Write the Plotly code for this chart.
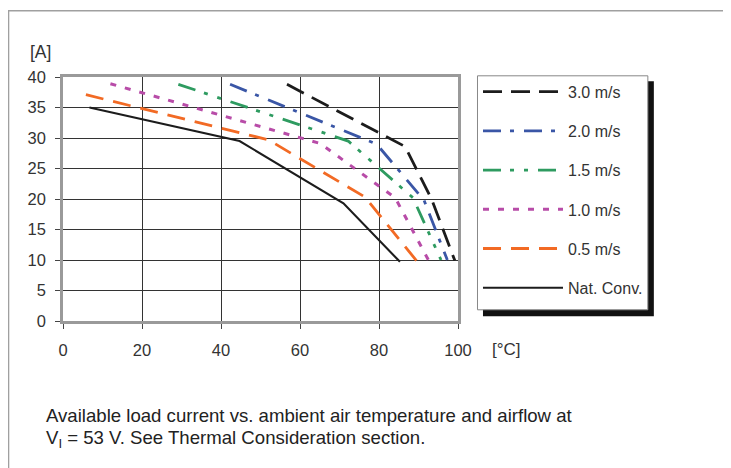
import plotly.graph_objects as go

# ---- data ----
series_names = ["3.0 m/s", "2.0 m/s", "1.5 m/s", "1.0 m/s", "0.5 m/s", "Nat. Conv."]
temp_30 = [56.7, 86.6, 93.3, 99.2]
curr_30 = [38.8, 28.6, 20.0, 9.9]
temp_20 = [42.3, 79.4, 91.4, 97.3]
curr_20 = [38.8, 29.0, 19.8, 10.0]
temp_15 = [29.2, 72.2, 88.6, 95.7]
curr_15 = [38.8, 29.5, 20.2, 10.0]
temp_10 = [12.0, 65.1, 84.1, 92.5]
curr_10 = [38.9, 29.1, 20.2, 10.0]
temp_05 = [5.8, 52.0, 76.5, 89.6]
curr_05 = [37.1, 29.7, 20.3, 9.8]
temp_nat = [6.7, 44.7, 71.0, 85.3]
curr_nat = [35.0, 29.5, 19.3, 9.7]

x_ticks = [0, 20, 40, 60, 80, 100]
y_ticks = [0, 5, 10, 15, 20, 25, 30, 35, 40]

# ---- layout geometry (page pixels; the page body adds an 8px offset) ----
OFF = 8
W, H = 731 - OFF, 468 - OFF
PL, PR, PT, PB = 62.7, 458.0, 76.7, 320.7   # plot area in page pixels
ML, MT = PL - OFF, PT - OFF
MR, MB = W - (PR - OFF), H - (PB - OFF)
PW = PR - PL
PH = PB - PT


def px(xp):
    return (xp - PL) / PW


def py(yp):
    return (PB - yp) / PH


FONT = "Liberation Sans, Arial, sans-serif"

styles = [
    dict(color="#1c1c1c", width=2.8, dash="19px,9px"),
    dict(color="#3a56a6", width=2.8, dash="18px,9px,4px,10px"),
    dict(color="#2e9b60", width=2.8, dash="18px,9px,4px,10px,4px,10px"),
    dict(color="#b84ca8", width=3.0, dash="6px,9px"),
    dict(color="#f26a24", width=2.8, dash="18px,10px"),
    dict(color="#1c1c1c", width=2.1, dash="solid"),
]
xs = [temp_30, temp_20, temp_15, temp_10, temp_05, temp_nat]
ys = [curr_30, curr_20, curr_15, curr_10, curr_05, curr_nat]

fig = go.Figure()
for i, name in enumerate(series_names):
    fig.add_trace(go.Scatter(
        x=xs[i], y=ys[i], mode="lines", name=name,
        line=styles[i], legendgroup=f"g{i}",
    ))

axis_common = dict(
    showline=True, linecolor="#9a9a9a", linewidth=2.5, mirror=True,
    ticks="outside", ticklen=5, tickwidth=1, tickcolor="#444",
    showgrid=True, gridcolor="#333", gridwidth=1, zeroline=False,
    tickfont=dict(family=FONT, size=16.5, color="#333"),
)
fig.update_xaxes(range=[0, 100], tickvals=x_ticks, ticklabelstandoff=7, **axis_common)
fig.update_yaxes(range=[0, 40], tickvals=y_ticks, ticklabelstandoff=6, **axis_common)

shapes = [
    # outer frame
    dict(type="rect", xref="paper", yref="paper", x0=px(8.2), x1=px(760), y0=py(500), y1=py(10.5),
         line=dict(color="#a0a0a0", width=1.5), fillcolor="rgba(0,0,0,0)", layer="below"),
    # legend shadow
    dict(type="rect", xref="paper", yref="paper", x0=px(483), x1=px(654), y0=py(316), y1=py(81),
         line=dict(width=0), fillcolor="#111"),
    # legend box
    dict(type="rect", xref="paper", yref="paper", x0=px(477.5), x1=px(648), y0=py(309.5), y1=py(75.5),
         line=dict(color="#888", width=1), fillcolor="white"),
]

annotations = [
    dict(text="[A]", x=px(40), y=py(52), xref="paper", yref="paper", showarrow=False,
         xanchor="center", yanchor="middle", font=dict(family=FONT, size=17.5, color="#333")),
    dict(text="[°C]", x=px(507), y=py(349), xref="paper", yref="paper", showarrow=False,
         xanchor="center", yanchor="middle", font=dict(family=FONT, size=17, color="#333")),
    dict(text="Available load current vs. ambient air temperature and airflow at",
         x=px(44), y=py(415), xref="paper", yref="paper", showarrow=False,
         xanchor="left", yanchor="middle", font=dict(family=FONT, size=18.6, color="#222")),
    dict(text="V<sub>I</sub> = 53 V. See Thermal Consideration section.",
         x=px(44), y=py(439), xref="paper", yref="paper", showarrow=False,
         xanchor="left", yanchor="middle", font=dict(family=FONT, size=18.6, color="#222")),
]

fig.update_layout(
    width=W, height=H,
    margin=dict(l=ML, r=MR, t=MT, b=MB),
    paper_bgcolor="white", plot_bgcolor="white",
    shapes=shapes, annotations=annotations,
    showlegend=True,
    legend=dict(
        x=px(478), y=py(74.5), xanchor="left", yanchor="top",
        bgcolor="rgba(0,0,0,0)", borderwidth=0,
        itemwidth=80, tracegroupgap=15.4,
        font=dict(family=FONT, size=16, color="#333"),
    ),
)

fig.write_html("out.html")
